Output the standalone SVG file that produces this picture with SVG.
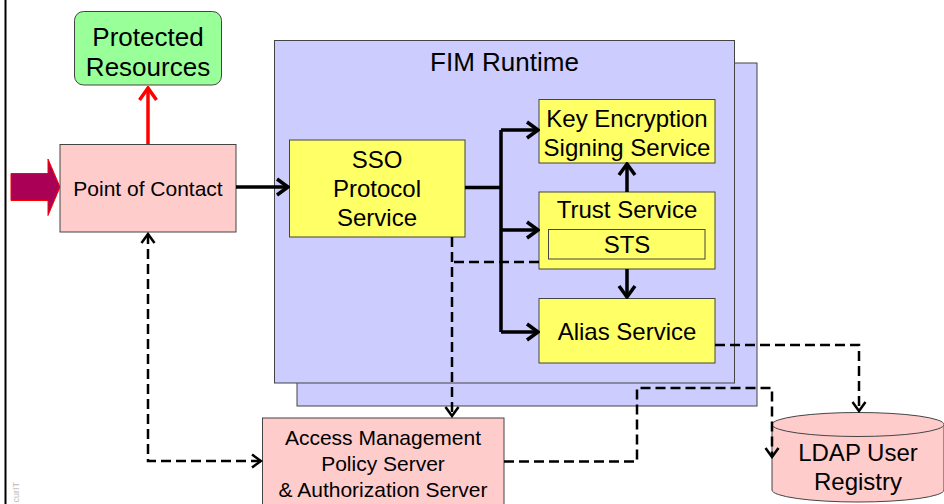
<svg xmlns="http://www.w3.org/2000/svg" width="944" height="504" viewBox="0 0 944 504">
  <style>
    text { font-family: "Liberation Sans", Arial, sans-serif; fill: #000; text-anchor: middle; }
    .box { stroke: #444; stroke-width: 1; }
    .pink { fill: #FFCCCC; }
    .yellow { fill: #FFFF66; }
    .lav { fill: #CCCCFF; }
    .green { fill: #99FF99; }
    .solid { fill: none; stroke: #000; stroke-width: 3.5; }
    .dash { fill: none; stroke: #000; stroke-width: 2.5; stroke-dasharray: 10 5; }
    .t26 { font-size: 26px; }
    .t24 { font-size: 24px; }
    .t21 { font-size: 21px; }
  </style>
  <defs>
    <marker id="arrow" markerUnits="userSpaceOnUse" viewBox="-14 -10 16 20" refX="0" refY="0" markerWidth="16" markerHeight="20" orient="auto-start-reverse">
      <path d="M-11,-8 L0,0 L-11,8" fill="none" stroke="#000" stroke-width="3.5"/>
    </marker>
    <marker id="arrowDash" markerUnits="userSpaceOnUse" viewBox="-12 -9 14 18" refX="0" refY="0" markerWidth="14" markerHeight="18" orient="auto-start-reverse">
      <path d="M-9,-6.5 L0,0 L-9,6.5" fill="none" stroke="#000" stroke-width="2.5"/>
    </marker>
    <marker id="arrowRed" markerUnits="userSpaceOnUse" viewBox="-14 -10 16 20" refX="0" refY="0" markerWidth="16" markerHeight="20" orient="auto">
      <path d="M-12,-8.5 L0,0 L-12,8.5" fill="none" stroke="#FF0000" stroke-width="3.5"/>
    </marker>
  </defs>

  <rect width="944" height="504" fill="#fff"/>

  <!-- page frame edge and footer mark -->
  <line x1="5.5" y1="0" x2="5.5" y2="504" stroke="#000" stroke-width="2"/>
  <text transform="translate(19,482) rotate(-90)" style="font-size:9px; fill:#bbb; text-anchor:end">curIT</text>

  <!-- FIM Runtime container (stacked) -->
  <g id="fim-runtime">
    <rect class="box lav" x="297" y="63" width="460" height="343"/>
    <rect class="box lav" x="274.5" y="40.5" width="460" height="342.5"/>
    <text class="t26" x="504.5" y="71">FIM Runtime</text>
  </g>

  <g id="protected-resources">
    <rect class="box green" x="74.5" y="11.5" width="147" height="73.5" rx="9"/>
    <text class="t26" x="148" y="46">Protected</text>
    <text class="t26" x="148" y="76">Resources</text>
  </g>

  <g id="entry-arrow">
    <path d="M11,173.5 H48 V159 L60,187 L48,215.5 V200.5 H11 Z" fill="#AA0055" stroke="#FF0000" stroke-width="1"/>
  </g>

  <g id="point-of-contact">
    <rect class="box pink" x="60" y="144.5" width="176" height="87.5"/>
    <text class="t21" x="148" y="196">Point of Contact</text>
  </g>

  <g id="sso-protocol-service">
    <rect class="box yellow" x="289.5" y="140" width="175.5" height="97"/>
    <text class="t24" x="377" y="168">SSO</text>
    <text class="t24" x="377" y="197">Protocol</text>
    <text class="t24" x="377" y="225.5">Service</text>
  </g>

  <g id="key-encryption-signing-service">
    <rect class="box yellow" x="539" y="99.5" width="176" height="63.5"/>
    <text class="t24" x="627" y="126.5">Key Encryption</text>
    <text class="t24" x="627" y="155.5">Signing Service</text>
  </g>

  <g id="trust-service">
    <rect class="box yellow" x="539" y="192" width="176" height="77"/>
    <text class="t24" x="627" y="218">Trust Service</text>
    <rect class="box yellow" x="548.5" y="229.5" width="156.5" height="29.5"/>
    <text class="t24" x="627" y="252.5">STS</text>
  </g>

  <g id="alias-service">
    <rect class="box yellow" x="539" y="298.5" width="176" height="64.5"/>
    <text class="t24" x="627" y="340">Alias Service</text>
  </g>

  <g id="access-management">
    <rect class="box pink" x="262.5" y="418" width="241.5" height="90"/>
    <text class="t21" x="383" y="445">Access Management</text>
    <text class="t21" x="383" y="471">Policy Server</text>
    <text class="t21" x="383" y="496.5">&amp; Authorization Server</text>
  </g>

  <g id="ldap-user-registry">
    <path class="box pink" d="M772,424.5 V490 A86,12 0 0 0 944,490 V424.5"/>
    <ellipse class="box pink" cx="858" cy="424.5" rx="86" ry="12"/>
    <text class="t24" x="858" y="461">LDAP User</text>
    <text class="t24" x="858" y="489.5">Registry</text>
  </g>

  <!-- connectors -->
  <g id="connectors">
    <line x1="148" y1="144" x2="148" y2="88" stroke="#FF0000" stroke-width="3.5" marker-end="url(#arrowRed)"/>
    <path class="solid" d="M236,187 H288" marker-end="url(#arrow)"/>
    <path class="solid" d="M465,187.5 H501"/>
    <path class="solid" d="M501,130 V332"/>
    <path class="solid" d="M501,130 H538" marker-end="url(#arrow)"/>
    <path class="solid" d="M501,230 H538" marker-end="url(#arrow)"/>
    <path class="solid" d="M501,332 H538" marker-end="url(#arrow)"/>
    <path class="solid" d="M627,192 V164" marker-end="url(#arrow)"/>
    <path class="solid" d="M627,269 V297" marker-end="url(#arrow)"/>

    <path class="dash" d="M539,262 H452"/>
    <path class="dash" d="M452,237 V416" marker-end="url(#arrowDash)"/>
    <path class="dash" d="M148,234 V461 H261" marker-start="url(#arrowDash)" marker-end="url(#arrowDash)"/>
    <path class="dash" d="M504,461.5 H637 V388 H772 V457" marker-end="url(#arrowDash)"/>
    <path class="dash" d="M715,345 H859 V411" marker-end="url(#arrowDash)"/>
  </g>
</svg>
